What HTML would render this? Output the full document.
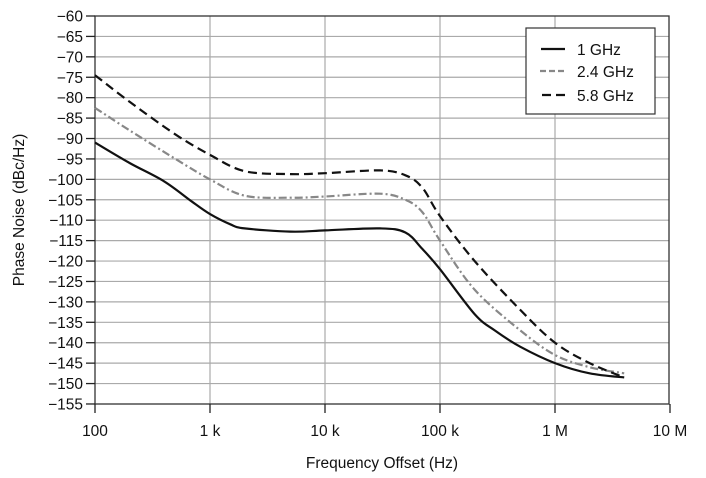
<!DOCTYPE html>
<html><head><style>
html,body{margin:0;padding:0;background:#fff;}
svg{display:block;font-family:"Liberation Sans",Arial,sans-serif;}
</style></head><body>
<svg id="s" width="706" height="478" xmlns="http://www.w3.org/2000/svg"></svg>
<script>
var s=document.getElementById('s'),h='';
function X(f){return 95+115*Math.log10(f/100);}
function Y(v){return 16+(-60-v)*4.084;}
for(var v=-65;v>=-150;v-=5){h+='<line x1="95" x2="669" y1="'+Y(v)+'" y2="'+Y(v)+'" stroke="#aaa" stroke-width="1.2"/>';}
for(var d=1;d<5;d++){var x=95+115*d;h+='<line x1="'+x+'" x2="'+x+'" y1="16" y2="404" stroke="#aaa" stroke-width="1.2"/>';}
h+='<rect x="95" y="16" width="574" height="388" fill="none" stroke="#333" stroke-width="1.3"/>';
for(var v=-60;v>=-155;v-=5){var y=Y(v);h+='<line x1="86" x2="95" y1="'+y+'" y2="'+y+'" stroke="#222" stroke-width="1.3"/>';
h+='<text x="83" y="'+(y+5.5)+'" font-size="15.5" text-anchor="end" fill="#111">\u2212'+(-v)+'</text>';}
var xl=['100','1 k','10 k','100 k','1 M','10 M'];
for(var d=0;d<6;d++){var x=95+115*d;h+='<line x1="'+x+'" x2="'+x+'" y1="404" y2="413" stroke="#222" stroke-width="1.3"/>';
h+='<text x="'+x+'" y="436" font-size="15.5" text-anchor="middle" fill="#111">'+xl[d]+'</text>';}
h+='<text x="382" y="468" font-size="15.5" text-anchor="middle" fill="#111">Frequency Offset (Hz)</text>';
h+='<text transform="translate(24,210) rotate(-90)" font-size="15.5" text-anchor="middle" fill="#111">Phase Noise (dBc/Hz)</text>';
function P(pts,st){var q=pts.map(function(p){return [X(p[0]),Y(p[1])];});
var d='M'+q[0][0].toFixed(1)+','+q[0][1].toFixed(1);
for(var i=0;i<q.length-1;i++){var p0=q[Math.max(0,i-1)],p1=q[i],p2=q[i+1],p3=q[Math.min(q.length-1,i+2)];
var c1=[p1[0]+(p2[0]-p0[0])/6,p1[1]+(p2[1]-p0[1])/6],c2=[p2[0]-(p3[0]-p1[0])/6,p2[1]-(p3[1]-p1[1])/6];
d+='C'+c1[0].toFixed(1)+','+c1[1].toFixed(1)+' '+c2[0].toFixed(1)+','+c2[1].toFixed(1)+' '+p2[0].toFixed(1)+','+p2[1].toFixed(1);}
h+='<path d="'+d+'" fill="none" '+st+' stroke-linejoin="round"/>';}
P([[100,-91],[200,-96],[400,-100.5],[700,-105.5],[1e3,-108.5],[1.5e3,-111],[2e3,-112],[5e3,-112.8],[1e4,-112.5],[3e4,-112],[5e4,-113],[7e4,-117],[1e5,-122],[2e5,-133],[3e5,-137],[5e5,-141],[1e6,-145],[2e6,-147.5],[4e6,-148.5]],'stroke="#111" stroke-width="2.2"');
P([[100,-82.5],[200,-88],[500,-95],[1e3,-100],[2e3,-104],[5e3,-104.5],[1e4,-104.2],[3e4,-103.5],[5e4,-105],[7e4,-108],[1e5,-115],[2e5,-127],[5e5,-137],[1e6,-143],[2e6,-146],[4e6,-147.5]],'stroke="#888" stroke-width="2.2" stroke-dasharray="8,3,2,3"');
P([[100,-74.5],[200,-81],[500,-89],[1e3,-94],[2e3,-98],[5e3,-98.7],[1e4,-98.5],[3e4,-97.8],[5e4,-99],[7e4,-102],[1e5,-109],[2e5,-120],[5e5,-132],[1e6,-140],[2e6,-145],[4e6,-148.5]],'stroke="#111" stroke-width="2.2" stroke-dasharray="9,5"');
h+='<rect x="526" y="28" width="129" height="86" fill="#fff" stroke="#333" stroke-width="1.2"/>';
h+='<line x1="541" x2="565" y1="49" y2="49" stroke="#111" stroke-width="2.2"/>';
h+='<line x1="540" x2="567" y1="71" y2="71" stroke="#888" stroke-width="2.2" stroke-dasharray="6,3"/>';
h+='<line x1="542" x2="567" y1="95" y2="95" stroke="#111" stroke-width="2.2" stroke-dasharray="9,5"/>';
h+='<text x="577" y="55" font-size="15.5" fill="#111">1 GHz</text>';
h+='<text x="577" y="77" font-size="15.5" fill="#111">2.4 GHz</text>';
h+='<text x="577" y="101" font-size="15.5" fill="#111">5.8 GHz</text>';
s.innerHTML=h;
</script>
</body></html>
